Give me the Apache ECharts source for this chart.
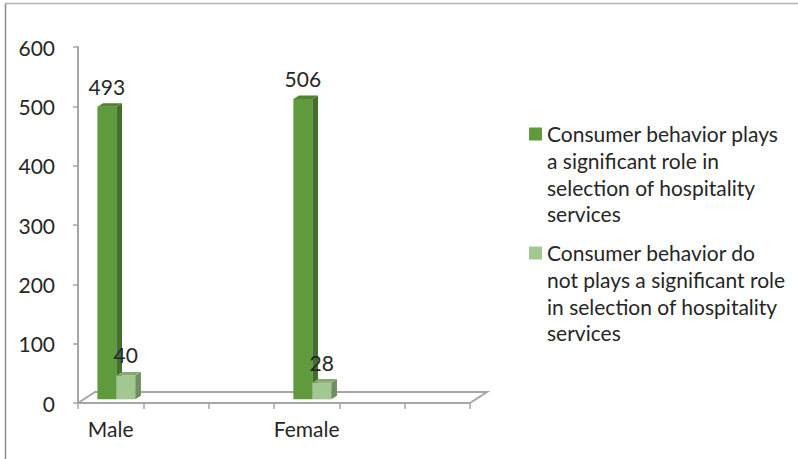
<!DOCTYPE html>
<html>
<head>
<meta charset="utf-8">
<script src="https://cdn.jsdelivr.net/npm/echarts@6/dist/echarts.min.js"></script>
<style>
html,body{margin:0;padding:0;background:#fff;}
#chart{width:798px;height:459px;}
</style>
</head>
<body>
<div id="chart"></div>
<script>
// ---- data ----
const categories = ['Male', '', '', 'Female', '', ''];
const significant = [493, null, null, 506, null, null];
const notSignificant = [40, null, null, 28, null, null];
const seriesNames = [
  'Consumer behavior plays\na significant role in\nselection of hospitality\nservices',
  'Consumer behavior do\nnot plays a significant role\nin selection of hospitality\nservices'
];
const yMin = 0, yMax = 600, yStep = 100;

// ---- style ----
const FONT = 'Lato, "Open Sans", sans-serif';
const FS = 21;
const TXT = '#262626';
const AX = '#A6A6A6';
const DEPTH_X = 17, DEPTH_Y = -11;
const palettes = [
  { front: '#5F9B3C', side: '#42702A', top: '#4E8332', legend: '#5F9B3C' },
  { front: '#A3C790', side: '#6F8F61', top: '#86A873', legend: '#A3C790' }
];

function barRenderer(sIdx) {
  return function (params, api) {
    const i = api.value(0), v = api.value(1);
    const band = api.size([1, 0])[0];
    const c0 = api.coord([i, 0]);
    const c1 = api.coord([i, v]);
    const dx = DEPTH_X / 3, dy = DEPTH_Y / 3;
    const w = band * 0.29;
    const x0 = c0[0] - w + dx + sIdx * w;
    const yBot = c0[1] + dy, yTop = c1[1] + dy;
    const p = palettes[sIdx];
    return {
      type: 'group',
      children: [
        { type: 'rect', shape: { x: x0, y: yTop, width: w, height: yBot - yTop }, style: { fill: p.front } },
        { type: 'polygon', shape: { points: [[x0 + w, yTop], [x0 + w + dx, yTop + dy], [x0 + w + dx, yBot + dy], [x0 + w, yBot]] }, style: { fill: p.side } },
        { type: 'polygon', shape: { points: [[x0, yTop], [x0 + dx, yTop + dy], [x0 + w + dx, yTop + dy], [x0 + w, yTop]] }, style: { fill: p.top } },
        { type: 'text', style: { text: String(v), x: x0 + w / 2, y: yTop + dy - 17, align: 'center', verticalAlign: 'middle', font: FS + 'px ' + FONT, fill: TXT } }
      ]
    };
  };
}

function toItems(arr) {
  const out = [];
  arr.forEach((v, i) => { if (v != null) out.push([i, v]); });
  return out;
}

const chart = echarts.init(document.getElementById('chart'), null, { renderer: 'svg' });

const legendChildren = [];
const legendTops = [120.5, 239.5];
seriesNames.forEach((name, k) => {
  legendChildren.push({ type: 'rect', shape: { x: 529, y: legendTops[k] + 7, width: 13, height: 13 }, style: { fill: palettes[k].legend } });
  legendChildren.push({ type: 'text', style: { text: name, x: 547, y: legendTops[k], font: FS + 'px ' + FONT, fill: TXT, lineHeight: 26.7, verticalAlign: 'top' } });
});

chart.setOption({
  backgroundColor: '#ffffff',
  animation: false,
  grid: { left: 78, right: 328, top: 47, bottom: 56 },
  xAxis: {
    type: 'category',
    data: categories,
    boundaryGap: true,
    axisLine: { lineStyle: { color: AX, width: 2 } },
    axisTick: { show: true, interval: 0, length: 6, lineStyle: { color: AX, width: 1.5 } },
    axisLabel: { interval: 0, margin: 15, color: TXT, fontSize: FS, fontFamily: FONT }
  },
  yAxis: {
    type: 'value',
    min: yMin, max: yMax, interval: yStep,
    axisLine: { show: true, lineStyle: { color: AX, width: 2 } },
    axisTick: { show: true, length: 5, lineStyle: { color: AX, width: 1.5 } },
    splitLine: { show: false },
    axisLabel: { margin: 23, color: TXT, fontSize: FS, fontFamily: FONT }
  },
  series: [
    {
      type: 'custom',
      name: 'floor',
      z: 1,
      silent: true,
      data: [[0, 0]],
      renderItem: function (params, api) {
        const cs = params.coordSys;
        const yb = cs.y + cs.height;
        return {
          type: 'polyline',
          shape: { points: [[cs.x, yb], [cs.x + DEPTH_X, yb + DEPTH_Y], [cs.x + cs.width + DEPTH_X, yb + DEPTH_Y], [cs.x + cs.width, yb]] },
          style: { stroke: AX, lineWidth: 2, fill: null }
        };
      }
    },
    { type: 'custom', name: seriesNames[0], z: 3, data: toItems(significant), renderItem: barRenderer(0) },
    { type: 'custom', name: seriesNames[1], z: 3, data: toItems(notSignificant), renderItem: barRenderer(1) }
  ],
  graphic: [
    { type: 'line', shape: { x1: 5, y1: 3.5, x2: 798, y2: 3.5 }, style: { stroke: '#B4B4B4', lineWidth: 1.5 } },
    { type: 'line', shape: { x1: 5.5, y1: 3.5, x2: 5.5, y2: 459 }, style: { stroke: '#8C8C8C', lineWidth: 1.5 } },
    { type: 'group', children: legendChildren }
  ]
});
</script>
</body>
</html>
